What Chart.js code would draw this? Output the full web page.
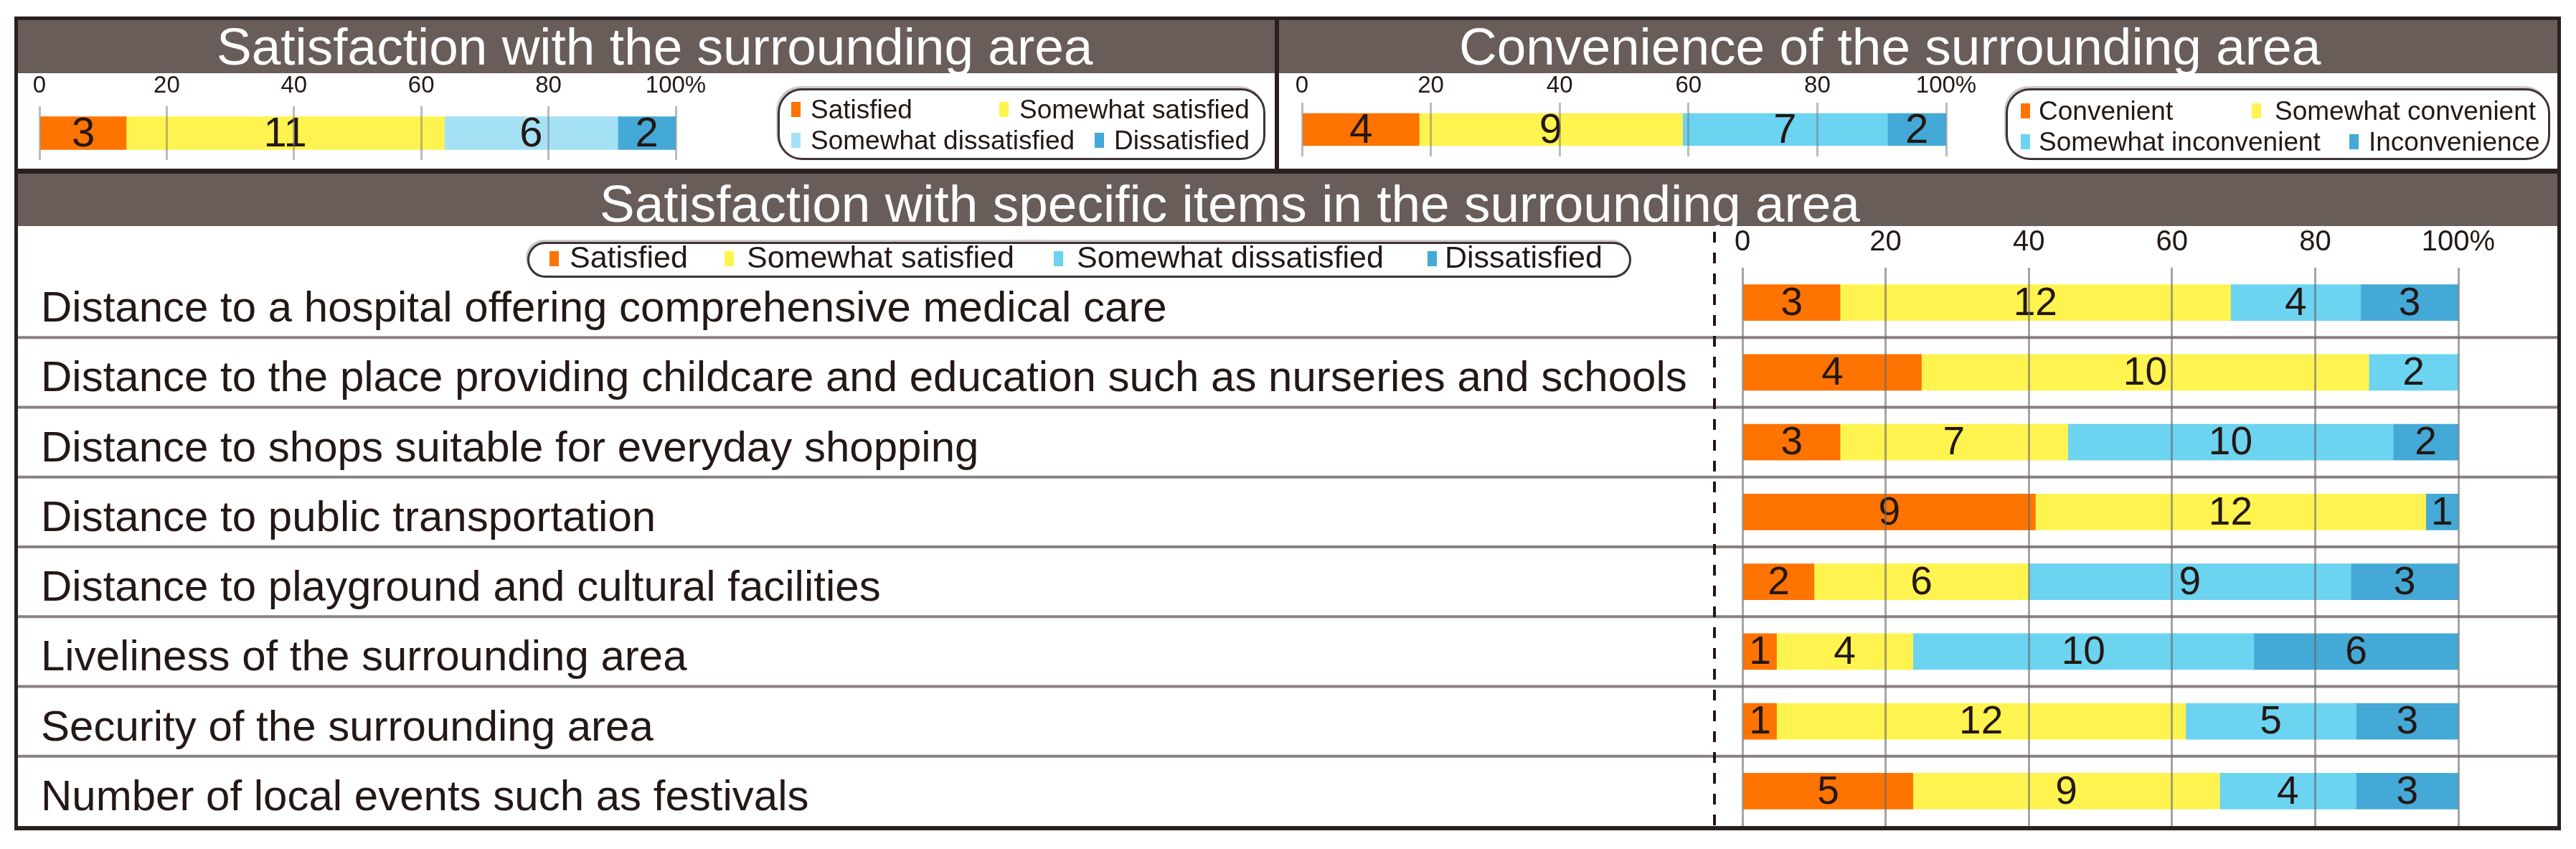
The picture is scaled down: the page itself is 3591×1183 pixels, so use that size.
<!DOCTYPE html>
<html>
<head>
<meta charset="utf-8">
<script src="https://cdn.jsdelivr.net/npm/chart.js@4.4.1/dist/chart.umd.min.js"></script>
<style>
  body { margin: 0; background: #fff; }
  #page { position: relative; width: 3591px; height: 1183px; background: #fff; overflow: hidden;
          font-family: 'Liberation Sans', Arial, sans-serif; color: #231815; }
  .abs { position: absolute; }
  .band { position: absolute; background: #695d5a; }
  .dark { position: absolute; background: #2b2020; }
  .title { position: absolute; color: #fff; font-size: 73px; line-height: 73px; white-space: nowrap; }
  .lgbox { position: absolute; border: 3px solid #3d3333; background: #fff; box-sizing: border-box;
           box-shadow: -2px -3px 0 #cfcaca; z-index: 3; }
  .lg { position: absolute; white-space: nowrap; z-index: 4; }
  .mk { position: absolute; z-index: 4; }
  canvas { position: absolute; }
</style>
</head>
<body>
<div id="page">
  <div class="dark" style="left:20px;top:23px;width:3550px;height:1134px;"></div>
  <div class="abs" style="left:25px;top:28px;width:3540px;height:1123px;background:#fff;"></div>
  <div class="band" style="left:25px;top:28px;width:3540px;height:74px;"></div>
  <div class="dark" style="left:1777px;top:23px;width:6px;height:219px;"></div>
  <div class="dark" style="left:25px;top:235px;width:3540px;height:7px;"></div>
  <div class="band" style="left:25px;top:242px;width:3540px;height:73px;"></div>

  <div class="title" style="left:302px;top:28px;">Satisfaction with the surrounding area</div>
  <div class="title" style="left:2034px;top:28px;">Convenience of the surrounding area</div>
  <div class="title" style="left:836px;top:247px;">Satisfaction with specific items in the surrounding area</div>

  <canvas id="overallSat" style="left:25px;top:102px;"></canvas>
  <canvas id="overallConv" style="left:1783px;top:102px;"></canvas>
  <canvas id="items" style="left:25px;top:315px;"></canvas>

  <div id="legends"></div>
</div>

<script>
// ---- data ----
var satCategories = ['Satisfied', 'Somewhat satisfied', 'Somewhat dissatisfied', 'Dissatisfied'];
var convCategories = ['Convenient', 'Somewhat convenient', 'Somewhat inconvenient', 'Inconvenience'];

var overallSatisfaction = [3, 11, 6, 2];
var overallConvenience = [4, 9, 7, 2];

var itemLabels = [
  'Distance to a hospital offering comprehensive medical care',
  'Distance to the place providing childcare and education such as nurseries and schools',
  'Distance to shops suitable for everyday shopping',
  'Distance to public transportation',
  'Distance to playground and cultural facilities',
  'Liveliness of the surrounding area',
  'Security of the surrounding area',
  'Number of local events such as festivals'
];
var satisfied            = [3, 4, 3, 9, 2, 1, 1, 5];
var somewhatSatisfied    = [12, 10, 7, 12, 6, 4, 12, 9];
var somewhatDissatisfied = [4, 2, 10, 0, 9, 10, 5, 4];
var dissatisfied         = [3, 0, 2, 1, 3, 6, 3, 3];

var tickLabels = ['0', '20', '40', '60', '80', '100%'];

// ---- look ----
var FONT = "'Liberation Sans', Arial, sans-serif";
var INK = '#231815';
var colors = ['#ff7300', '#fff350', '#6cd3f0', '#44a9d6'];
var colorsTopLeft = ['#ff7300', '#fff350', '#a5e1f4', '#44a9d6'];

function pct(counts, totals) {
  return counts.map((c, i) => totals[i] ? c / totals[i] * 100 : 0);
}

// numbers in the middle of each segment
var countLabels = {
  id: 'countLabels',
  afterDatasetsDraw(chart, args, opts) {
    var ctx = chart.ctx;
    ctx.save();
    ctx.font = opts.size + 'px ' + FONT;
    ctx.fillStyle = INK;
    ctx.textAlign = 'center';
    ctx.textBaseline = 'middle';
    chart.data.datasets.forEach((ds, di) => {
      chart.getDatasetMeta(di).data.forEach((bar, i) => {
        var n = ds.counts[i];
        if (!n) return;
        ctx.fillText(String(n), (bar.x + bar.base) / 2, bar.y + 2);
      });
    });
    ctx.restore();
  }
};

// row separators + dashed divider for the item table
var rowLines = {
  id: 'rowLines',
  beforeDatasetsDraw(chart, args, opts) {
    if (!opts.on) return;
    var ctx = chart.ctx, ys = chart.scales.y;
    ctx.save();
    ctx.strokeStyle = '#8a8282';
    ctx.lineWidth = 4;
    for (var i = 0; i < chart.data.labels.length - 1; i++) {
      var y = (ys.getPixelForValue(i) + ys.getPixelForValue(i + 1)) / 2;
      ctx.beginPath();
      ctx.moveTo(0, y);
      ctx.lineTo(chart.width, y);
      ctx.stroke();
    }
    ctx.strokeStyle = INK;
    ctx.lineWidth = 4;
    ctx.setLineDash([15, 14]);
    ctx.beginPath();
    ctx.moveTo(opts.dashX, 8);
    ctx.lineTo(opts.dashX, chart.chartArea.bottom);
    ctx.stroke();
    ctx.restore();
  }
};

function makeChart(id, w, h, labels, seriesList, names, cols, o) {
  var cv = document.getElementById(id);
  cv.width = w; cv.height = h;
  cv.style.width = w + 'px'; cv.style.height = h + 'px';
  var totals = labels.map((l, i) => seriesList.reduce((s, arr) => s + arr[i], 0));
  return new Chart(cv.getContext('2d'), {
    type: 'bar',
    data: {
      labels: labels,
      datasets: seriesList.map((arr, k) => ({
        label: names[k],
        data: pct(arr, totals),
        counts: arr,
        backgroundColor: cols[k],
        borderWidth: 0,
        barThickness: o.barThickness
      }))
    },
    options: {
      indexAxis: 'y',
      responsive: false,
      devicePixelRatio: 1,
      animation: false,
      layout: { padding: o.padding },
      plugins: {
        legend: { display: false },
        tooltip: { enabled: false },
        countLabels: { size: o.countSize },
        rowLines: { on: !!o.rows, dashX: o.dashX }
      },
      scales: {
        x: {
          stacked: true,
          position: 'top',
          min: 0, max: 100,
          grid: { color: o.gridColor, lineWidth: 3, drawTicks: false, z: 1 },
          border: { display: false },
          ticks: {
            stepSize: 20,
            autoSkip: false,
            maxRotation: 0,
            padding: o.tickPad,
            color: INK,
            font: { family: FONT, size: o.tickSize },
            callback: (v, i) => tickLabels[i]
          },
          afterFit: s => { s.height = o.axisH; }
        },
        y: {
          stacked: true,
          display: !!o.rows,
          grid: { display: false },
          border: { display: false },
          ticks: {
            crossAlign: 'far',
            autoSkip: false,
            labelOffset: 10,
            color: INK,
            font: { family: FONT, size: 60 }
          },
          afterFit: s => {
            if (!o.rows) return;
            s.width = o.yWidth;
            s.paddingTop = 0;
            s.paddingBottom = 0;
          }
        }
      }
    },
    plugins: [countLabels, rowLines]
  });
}

// top left: overall satisfaction (chart area 55..942 page px)
makeChart('overallSat', 1752, 133, [''],
  overallSatisfaction.map(v => [v]), satCategories, colorsTopLeft,
  { padding: { left: 30, right: 835, top: 0, bottom: 12 }, axisH: 46, tickPad: 8, tickSize: 33,
    barThickness: 46, countSize: 58, gridColor: 'rgba(120,120,120,0.5)' });

// top right: overall convenience (chart area 1815..2713 page px)
makeChart('overallConv', 1782, 133, [''],
  overallConvenience.map(v => [v]), convCategories, colors,
  { padding: { left: 32, right: 852, top: 0, bottom: 17 }, axisH: 41, tickPad: 3, tickSize: 33,
    barThickness: 45, countSize: 58, gridColor: 'rgba(120,120,120,0.5)' });

// bottom: items (chart area 2429..3427 page px)
makeChart('items', 3540, 836, itemLabels,
  [satisfied, somewhatSatisfied, somewhatDissatisfied, dissatisfied], satCategories, colors,
  { padding: { left: 32, right: 138, top: 0, bottom: 0 }, axisH: 58, tickPad: 11, tickSize: 40,
    barThickness: 50, countSize: 55, gridColor: 'rgba(105,105,105,0.6)',
    rows: true, yWidth: 2404 - 32, dashX: 2390 - 25 });

// ---- legends (html) ----
var lg = document.getElementById('legends');
function box(x, y, w, h, r) {
  var d = document.createElement('div');
  d.className = 'lgbox';
  d.style.cssText = 'left:' + x + 'px;top:' + y + 'px;width:' + w + 'px;height:' + h + 'px;border-radius:' + r + 'px;';
  lg.appendChild(d);
}
function item(mx, tx, base, size, color, text) {
  var m = document.createElement('div');
  m.className = 'mk';
  m.style.cssText = 'left:' + mx + 'px;top:' + (base - 23) + 'px;width:13px;height:21px;background:' + color + ';';
  lg.appendChild(m);
  var t = document.createElement('div');
  t.className = 'lg';
  t.style.cssText = 'left:' + tx + 'px;top:' + (base - 0.8465 * size) + 'px;font-size:' + size + 'px;line-height:' + size + 'px;';
  t.textContent = text;
  lg.appendChild(t);
}

box(1084, 123, 680, 100, 34);
item(1103, 1130, 165, 37, colorsTopLeft[0], satCategories[0]);
item(1393, 1421, 165, 37, colorsTopLeft[1], satCategories[1]);
item(1103, 1130, 208, 37, colorsTopLeft[2], satCategories[2]);
item(1526, 1553, 208, 37, colorsTopLeft[3], satCategories[3]);

box(2796, 123, 759, 100, 34);
item(2817, 2842, 167, 37, colors[0], convCategories[0]);
item(3139, 3171, 167, 37, colors[1], convCategories[1]);
item(2817, 2842, 210, 37, colors[2], convCategories[2]);
item(3275, 3302, 210, 37, colors[3], convCategories[3]);

box(735, 337, 1539, 50, 25);
item(766, 794, 373, 43, colors[0], satCategories[0]);
item(1010, 1041, 373, 43, colors[1], satCategories[1]);
item(1469, 1501, 373, 43, colors[2], satCategories[2]);
item(1990, 2014, 373, 43, colors[3], satCategories[3]);
</script>
</body>
</html>
